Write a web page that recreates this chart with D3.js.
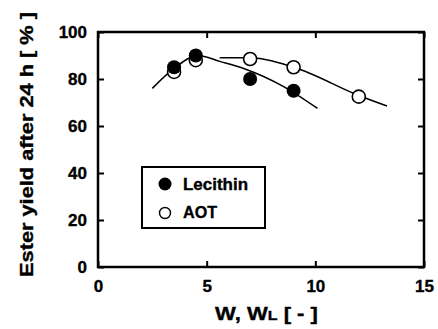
<!DOCTYPE html>
<html>
<head>
<meta charset="utf-8">
<script src="https://d3js.org/d3.v7.min.js"></script>
<style>
    html, body { margin: 0; padding: 0; background: white; }
    text { font-family: 'Liberation Sans', Arial, sans-serif; font-weight: bold; fill: black; stroke: black; stroke-width: 0.35px; }
</style>
</head>
<body>
<svg id="chart" width="438" height="329"></svg>
<script>
// data
const lecithinW = [3.5, 4.5, 7, 9]
const lecithinYield = [85, 90, 80, 75]
const aotW = [3.5, 4.5, 7, 9, 12]
const aotYield = [83, 88, 88.5, 85, 72.5]

// hand drawn fit curves
const lecithinFitW = [2.5, 3.5, 4.6, 5.6, 6.7, 8.5, 10.1]
const lecithinFitY = [76, 84.5, 90, 87.5, 84.5, 77, 67.5]
const aotFitW = [5.6, 7, 9, 12, 13.3]
const aotFitY = [89, 89, 85, 73, 68.5]

const xTicks = [0, 5, 10, 15]
const yTicks = [0, 20, 40, 60, 80, 100]

const m = {left: 98, top: 32, right: 424, bottom: 267}
const x = d3.scaleLinear().domain([0, 15]).range([m.left, m.right])
const y = d3.scaleLinear().domain([0, 100]).range([m.bottom, m.top])

const svg = d3.select('#chart')

//AXES
function styleAxis(g){
    g.select('.domain').remove()
    g.selectAll('line').attr('stroke', 'black').attr('stroke-width', 2)
    g.selectAll('text').attr('font-size', '17px').attr('fill', 'black')
}

svg.append('g')
    .attr('transform', 'translate(0,' + m.bottom + ')')
    .call(d3.axisBottom(x).tickValues(xTicks).tickFormat(d3.format('d')).tickSizeInner(-6).tickPadding(13))
    .call(styleAxis)

svg.append('g')
    .attr('transform', 'translate(' + m.left + ',0)')
    .call(d3.axisLeft(y).tickValues(yTicks).tickFormat(d3.format('d')).tickSizeInner(-6).tickPadding(11))
    .call(styleAxis)

svg.append('g')
    .attr('transform', 'translate(0,' + m.top + ')')
    .call(d3.axisTop(x).tickValues(xTicks).tickFormat('').tickSizeInner(-6))
    .call(styleAxis)

svg.append('g')
    .attr('transform', 'translate(' + m.right + ',0)')
    .call(d3.axisRight(y).tickValues(yTicks).tickFormat('').tickSizeInner(-6))
    .call(styleAxis)

// frame
svg.append('rect')
    .attr('x', m.left).attr('y', m.top)
    .attr('width', m.right - m.left).attr('height', m.bottom - m.top)
    .attr('fill', 'none').attr('stroke', 'black').attr('stroke-width', 2.5)

// axis titles
const xt = svg.append('text')
    .attr('x', 215).attr('y', 320)
    .attr('font-size', '18px')
    .attr('textLength', 103).attr('lengthAdjust', 'spacingAndGlyphs')
xt.append('tspan').text('W, W')
xt.append('tspan').attr('font-size', '13px').text('L')
xt.append('tspan').text(' [ - ]')

svg.append('text')
    .attr('transform', 'translate(33,277) rotate(-90)')
    .attr('font-size', '18px')
    .attr('textLength', 265).attr('lengthAdjust', 'spacingAndGlyphs')
    .text('Ester yield after 24 h [ % ]')

//CURVES
const line = d3.line().x(d => x(d[0])).y(d => y(d[1])).curve(d3.curveMonotoneX)

svg.append('path')
    .datum(lecithinFitW.map((w, i) => [w, lecithinFitY[i]]))
    .attr('d', line).attr('fill', 'none').attr('stroke', 'black').attr('stroke-width', 1.5)

svg.append('path')
    .datum(aotFitW.map((w, i) => [w, aotFitY[i]]))
    .attr('d', line).attr('fill', 'none').attr('stroke', 'black').attr('stroke-width', 1.5)

//POINTS
svg.selectAll('.aot')
    .data(aotW.map((w, i) => [w, aotYield[i]]))
    .enter().append('circle')
    .attr('cx', d => x(d[0])).attr('cy', d => y(d[1])).attr('r', 6.5)
    .attr('fill', 'white').attr('stroke', 'black').attr('stroke-width', 1.6)

svg.selectAll('.lec')
    .data(lecithinW.map((w, i) => [w, lecithinYield[i]]))
    .enter().append('circle')
    .attr('cx', d => x(d[0])).attr('cy', d => y(d[1])).attr('r', 7)
    .attr('fill', 'black')

//LEGEND
svg.append('rect')
    .attr('x', 142).attr('y', 167).attr('width', 123).attr('height', 61)
    .attr('fill', 'white').attr('stroke', 'black').attr('stroke-width', 2)

svg.append('circle').attr('cx', 165).attr('cy', 184).attr('r', 6.5).attr('fill', 'black')
svg.append('circle').attr('cx', 165).attr('cy', 213).attr('r', 5.5)
    .attr('fill', 'white').attr('stroke', 'black').attr('stroke-width', 1.4)

svg.append('text').attr('x', 183).attr('y', 190).attr('font-size', '16px')
    .attr('textLength', 65).attr('lengthAdjust', 'spacingAndGlyphs').text('Lecithin')
svg.append('text').attr('x', 183).attr('y', 218).attr('font-size', '16px')
    .attr('textLength', 34).attr('lengthAdjust', 'spacingAndGlyphs').text('AOT')
</script>
</body>
</html>
